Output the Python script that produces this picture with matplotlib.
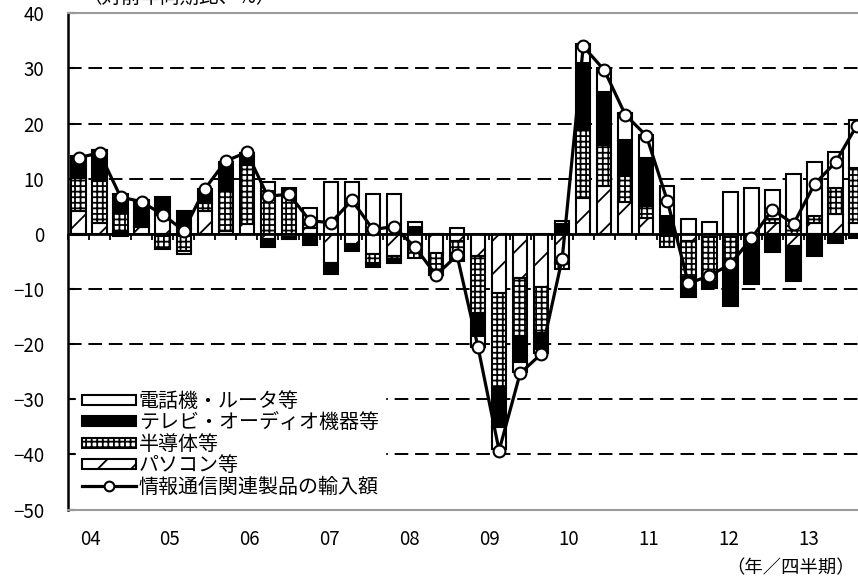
import matplotlib
matplotlib.use('Agg')
import matplotlib.pyplot as plt
import numpy as np
from matplotlib.patches import Patch
from matplotlib.lines import Line2D

plt.rcParams['font.family'] = ['Noto Sans CJK JP', 'DejaVu Sans']
plt.rcParams['hatch.linewidth'] = 1.3
plt.rcParams['axes.unicode_minus'] = True

# ---- data (2004Q1 .. 2013Q2), % change from a year earlier ----
year_labels = ['04', '05', '06', '07', '08', '09', '10', '11', '12', '13']
series_names = ['電話機・ルータ等', 'テレビ・オーディオ機器等', '半導体等', 'パソコン等']
line_name = '情報通信関連製品の輸入額'

pc = [4.1, 2.0, 0.3, 1.2, 3.4, 0.9, 4.1, 0.5, 1.7, -0.9, -0.5, 1.0,
      -5.2, -1.9, -3.7, -4.0, -2.0, -3.5, -1.3, -4.0, -10.8, -8.0, -9.6, -5.3,
      6.5, 8.7, 5.7, 2.9, -0.1, -1.3, -0.5, -0.5, 0.0, 2.0, -2.2, 2.0, 3.6, 2.0]
semi = [6.0, 7.5, 3.4, 0.3, -2.5, -3.2, 1.5, 7.2, 10.8, 7.8, 8.0, 1.2,
        0.0, 0.0, -1.6, -0.7, -2.3, -3.0, -2.7, -10.3, -17.2, -10.5, -8.3, -1.0,
        12.4, 7.4, 4.7, 2.2, -2.3, -6.6, -8.0, -4.5, -1.5, 0.6, 1.5, 1.2, 4.8, 10.0]
tv = [4.1, 5.7, 3.5, 4.7, 3.2, 3.2, 2.6, 5.4, 1.6, -1.4, -0.5, -2.1,
      -2.0, -1.3, -0.8, -0.6, 1.2, -1.0, -0.9, -4.2, -7.1, -4.8, -3.0, 1.7,
      12.1, 9.6, 6.7, 8.7, 3.3, -3.6, -1.3, -8.0, -7.6, -3.3, -6.3, -4.0, -1.7, -0.8]
phone = [-0.3, 0.0, -0.4, 0.0, -0.3, -0.5, 0.0, 0.0, 0.6, 1.6, 0.3, 2.5,
         9.4, 9.4, 7.3, 7.2, 0.9, 0.0, 1.1, -2.0, -3.9, -1.7, -0.7, 0.6,
         3.4, 4.4, 4.9, 4.2, 5.4, 2.7, 2.2, 7.6, 8.3, 5.4, 9.3, 9.8, 6.5, 8.7]
total = [13.8, 14.7, 6.7, 5.8, 3.5, 0.6, 8.1, 13.2, 14.8, 6.8, 7.2, 2.4,
         2.0, 6.1, 0.8, 1.3, -2.4, -7.5, -3.9, -20.6, -39.3, -25.3, -21.8, -4.5,
         34.0, 29.7, 21.6, 17.8, 6.0, -9.0, -7.6, -5.5, -0.8, 4.4, 1.8, 9.0, 13.0, 19.6]

n = len(total)
x = np.arange(n)

W, H = 858, 579
fig = plt.figure(figsize=(W / 100, H / 100), dpi=100)
ax = fig.add_axes([68 / W, (H - 509.5) / H, (W - 68) / W, (509.5 - 13.3) / H])

# stacked bars, separate stacking for positive and negative parts
styles = [
    (pc, dict(facecolor='white', hatch='/')),
    (semi, dict(facecolor='white', hatch='+++')),
    (tv, dict(facecolor='black', hatch=None)),
    (phone, dict(facecolor='white', hatch=None)),
]
pos_b = np.zeros(n)
neg_b = np.zeros(n)
for vals, st in styles:
    v = np.array(vals, dtype=float)
    b = np.where(v >= 0, pos_b, neg_b)
    ax.bar(x, v, bottom=b, width=0.68, edgecolor='black', linewidth=1.5,
           zorder=2, **st)
    pos_b = pos_b + np.where(v >= 0, v, 0)
    neg_b = neg_b + np.where(v < 0, v, 0)

ax.axhline(0, color='black', lw=2.0, zorder=3)

ax.plot(x, total, color='black', lw=2.3, marker='o', markersize=8.5,
        markerfacecolor='white', markeredgecolor='black', markeredgewidth=1.5,
        zorder=4)

ax.set_xlim(-0.5, (W - 78.5) / 21.03)
ax.set_ylim(-50, 40)
ax.set_yticks(np.arange(-50, 41, 10))
ax.yaxis.grid(True, linestyle=(0, (7, 3.5)), color='black', lw=1.4)
ax.set_axisbelow(True)
ax.tick_params(axis='y', direction='in', length=5, width=1.5, pad=17,
               labelsize=13.5)

# year labels (placed as in the original layout, slightly narrower than 4 quarters)
year_pos = 0.55 + 3.795 * np.arange(len(year_labels))
ax.set_xticks(year_pos)
ax.set_xticklabels(year_labels)
ax.tick_params(axis='x', length=0, pad=14, labelsize=13.5)

for s in ['top', 'bottom']:
    ax.spines[s].set_color('#9a9a9a')
    ax.spines[s].set_linewidth(1.5)
ax.spines['right'].set_visible(False)
ax.spines['left'].set_linewidth(1.8)

# tick marks on the zero axis at category boundaries
sec = ax.secondary_xaxis(50 / 90)
sec.set_xticks(np.arange(-0.5, n, 1.0))
sec.set_xticklabels([])
sec.tick_params(axis='x', direction='in', length=4, width=1.3)
sec.spines['bottom'].set_visible(False)

handles = [
    Patch(facecolor='white', edgecolor='black', lw=1.5),
    Patch(facecolor='black', edgecolor='black', lw=1.5),
    Patch(facecolor='white', edgecolor='black', lw=1.5, hatch='+++'),
    Patch(facecolor='white', edgecolor='black', lw=1.5, hatch='/'),
    Line2D([], [], color='black', lw=2.3, marker='o', markersize=7,
           markerfacecolor='white', markeredgecolor='black', markeredgewidth=1.5),
]
leg = ax.legend(handles, series_names + [line_name], loc='lower left',
                bbox_to_anchor=(0.01, 0.012), borderaxespad=0, fontsize=14.4,
                frameon=True, fancybox=False, framealpha=1, edgecolor='white',
                facecolor='white', handlelength=2.7, handleheight=0.4,
                handletextpad=0.15, labelspacing=0.02, borderpad=0.3)
leg.set_zorder(6)

fig.text(82 / W, 1 + 3 / H, '（対前年同期比、%）', fontsize=14, va='center', ha='left')
fig.text(855 / W, 1 - 568 / H, '（年／四半期）', fontsize=13.2, va='center', ha='right')

fig.savefig('out.png', dpi=100)
